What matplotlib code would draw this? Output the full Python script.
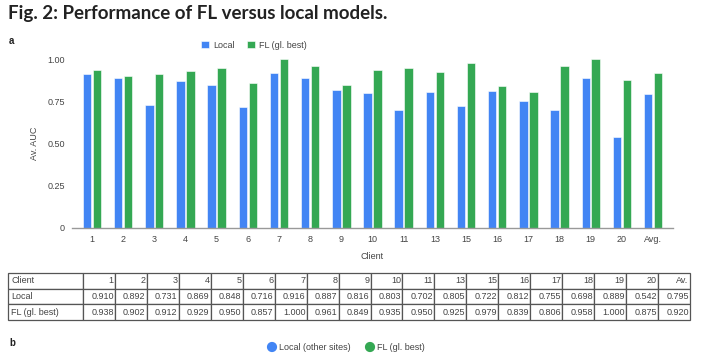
import matplotlib
matplotlib.use("Agg")
import matplotlib.pyplot as plt
import numpy as np

# data
clients = ['1', '2', '3', '4', '5', '6', '7', '8', '9', '10', '11', '13',
           '15', '16', '17', '18', '19', '20', 'Avg.']
table_header = ['1', '2', '3', '4', '5', '6', '7', '8', '9', '10', '11', '13',
                '15', '16', '17', '18', '19', '20', 'Av.']
local_auc = [0.910, 0.892, 0.731, 0.869, 0.848, 0.716, 0.916, 0.887, 0.816,
             0.803, 0.702, 0.805, 0.722, 0.812, 0.755, 0.698, 0.889, 0.542, 0.795]
fl_auc = [0.938, 0.902, 0.912, 0.929, 0.950, 0.857, 1.000, 0.961, 0.849,
          0.935, 0.950, 0.925, 0.979, 0.839, 0.806, 0.958, 1.000, 0.875, 0.920]
y_ticks = [0, 0.25, 0.50, 0.75, 1.00]
y_ticklabels = ['0', '0.25', '0.50', '0.75', '1.00']

BLUE = '#4285F4'
GREEN = '#34A853'
TXT = '#444444'

W, H = 710, 357
plt.rcParams['font.family'] = ['Liberation Sans', 'DejaVu Sans']

fig = plt.figure(figsize=(W / 100, H / 100), dpi=100)


def fx(px):
    return px / W


def fy(py):
    return 1 - py / H


# title and panel letters
fig.text(fx(8), fy(14), 'Fig. 2: Performance of FL versus local models.',
         family=['Liberation Sans Narrow', 'DejaVu Sans Condensed', 'Lato'],
         fontweight='bold', fontstretch='condensed',
         fontsize=13.5, color='#222222', va='center', ha='left')
fig.text(fx(9), fy(41), 'a', fontweight='bold', fontsize=7, color='#222222', va='center')
fig.text(fx(9), fy(343), 'b', fontweight='bold', fontsize=7, color='#222222', va='center')

# bar chart
ax = fig.add_axes([fx(72), fy(228), fx(673) - fx(72), fy(59.3) - fy(228)])
x = np.arange(len(clients))
bw = 0.27
ax.bar(x - 0.16, local_auc, bw, color=BLUE, edgecolor='white', linewidth=0.4, label='Local')
ax.bar(x + 0.16, fl_auc, bw, color=GREEN, edgecolor='white', linewidth=0.4, label='FL (gl. best)')
ax.set_xlim(-0.64, len(clients) - 1 + 0.64)
ax.set_ylim(0, 1.0)
ax.set_xticks(x)
ax.set_xticklabels(clients)
ax.set_yticks(y_ticks)
ax.set_yticklabels(y_ticklabels)
ax.tick_params(axis='both', length=0, labelsize=6.5, colors=TXT, pad=5)
for s in ['top', 'right', 'left']:
    ax.spines[s].set_visible(False)
ax.spines['bottom'].set_color('#999999')
ax.spines['bottom'].set_linewidth(1.0)
ax.set_xlabel('Client', fontsize=6.5, color=TXT, labelpad=6)
ax.set_ylabel('Av. AUC', fontsize=6.5, color=TXT, labelpad=6)
ax.patch.set_alpha(0)

leg = fig.legend(loc='center', bbox_to_anchor=(fx(254), fy(45)), ncol=2,
                 frameon=False, fontsize=6.5, handlelength=0.9, handleheight=0.9,
                 handletextpad=0.4, columnspacing=1.4)
for t in leg.get_texts():
    t.set_color(TXT)

# table
tax = fig.add_axes([fx(8), fy(320), fx(690) - fx(8), fy(273) - fy(320)])
tax.axis('off')
rows = [['Client'] + table_header,
        ['Local'] + ['%.3f' % v for v in local_auc],
        ['FL (gl. best)'] + ['%.3f' % v for v in fl_auc]]
total_w = 682.0
col_w = [75 / total_w] + [(607 / 19) / total_w] * 19
tbl = tax.table(cellText=rows, cellLoc='right', colWidths=col_w,
                bbox=[0, 0, 1, 1])
tbl.auto_set_font_size(False)
tbl.set_fontsize(6.5)
for (r, c), cell in tbl.get_celld().items():
    cell.set_edgecolor('#555555')
    cell.set_linewidth(0.9)
    cell.PAD = 0.04
    cell.get_text().set_color(TXT)
    if c == 0:
        cell._loc = 'left'
        cell.get_text().set_horizontalalignment('left')

# panel b legend
bax = fig.add_axes([0, 0, 1, 1])
bax.set_xlim(0, W)
bax.set_ylim(H, 0)
bax.axis('off')
bax.scatter([272, 370], [347, 347], s=40, color=[BLUE, GREEN], zorder=3)
bax.text(279, 347, 'Local (other sites)', fontsize=6.5, color=TXT, va='center')
bax.text(377, 347, 'FL (gl. best)', fontsize=6.5, color=TXT, va='center')

fig.savefig('out.png', dpi=100)
